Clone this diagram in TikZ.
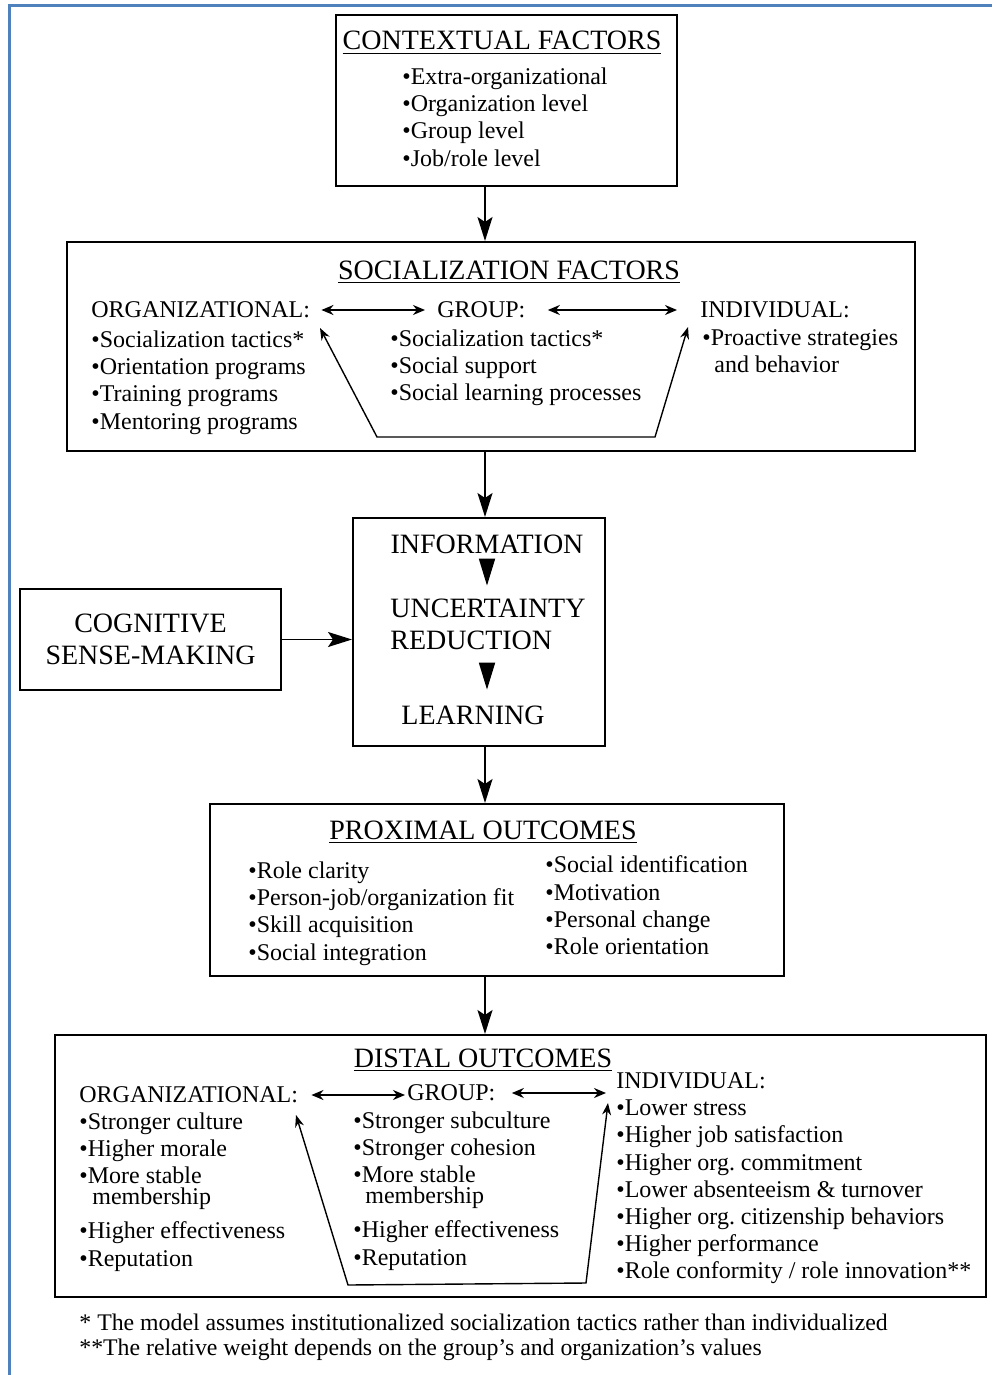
\documentclass[tikz,border=0pt]{standalone}
\usepackage{fontspec}
\setmainfont{Liberation Serif}
\usepackage{tikz}
\usetikzlibrary{positioning}
\usetikzlibrary{arrows.meta}
\definecolor{framebl}{RGB}{79,129,189}

\tikzset{
	box/.style={draw, line width=1pt, inner sep=0pt},
	ttl/.style={font=\fontsize{14}{16}\selectfont, anchor=base, inner sep=0pt},
	hd/.style={font=\fontsize{12}{13.6}\selectfont, anchor=west, inner sep=0pt},
	lst/.style={font=\fontsize{12}{13.6}\selectfont, align=left, anchor=north west, inner sep=0pt},
	big/.style={font=\fontsize{14}{16}\selectfont, inner sep=0pt},
	fn/.style={font=\fontsize{11.9}{13}\selectfont, anchor=west, inner sep=0pt},
	arr/.style={line width=0.9pt, -{Stealth[length=12pt,width=7.5pt,inset=2.5pt]}},
	tri/.style={line width=0.9pt, -{Triangle[length=13.5pt,width=8pt]}},
	dbl/.style={line width=0.9pt, {Stealth[length=6pt,width=5pt]}-{Stealth[length=6pt,width=5pt]}},
	trap/.style={line width=0.7pt, {Stealth[length=6pt,width=4.5pt]}-{Stealth[length=6pt,width=4.5pt]}},
}

\begin{document}
\begin{tikzpicture}[x=0.5pt,y=-0.5pt]
	\useasboundingbox (0,0) rectangle (992,1375);
	\draw [framebl, line width=1.5pt] (9,1375) -- (9,6) -- (992,6);
	\coordinate (ax) at (485,0);
	% boxes
	\node [box, minimum width=170.5pt, minimum height=85.5pt] (ctx) at (506.5,100.5) {};
	\node [box, minimum width=424pt, minimum height=104.5pt] (soc) at (491,346.5) {};
	\node [box, minimum width=126pt, minimum height=114pt] (info) at (479,632) {};
	\node [box, minimum width=130.5pt, minimum height=50.5pt, font=\fontsize{14}{16}\selectfont, align=center] (cog) at (150.5,639.5) {COGNITIVE\\SENSE-MAKING};
	\node [box, minimum width=287pt, minimum height=86pt] (prox) at (497,890) {};
	\node [box, minimum width=465.5pt, minimum height=131pt] (dist) at (520.5,1166) {};
	% contextual factors
	\node [ttl] (ctxt) at (502,50) {\underline{CONTEXTUAL FACTORS}};
	\node [lst] (ctxl) at (402,67.5) {•Extra-organizational\\•Organization level\\•Group level\\•Job/role level};
	% socialization factors
	\node [ttl] (soct) at (509,279) {\underline{SOCIALIZATION FACTORS}};
	\node [hd] (sorg) at (91,310) {ORGANIZATIONAL:};
	\node [hd] (sgrp) at (437,310) {GROUP:};
	\node [hd] (sind) at (700,310) {INDIVIDUAL:};
	\draw [dbl, shorten <=5.5pt, shorten >=6pt] (sorg.east) -- (sgrp.west);
	\draw [dbl, shorten <=11pt, shorten >=11.5pt] (sgrp.east) -- (sind.west);
	\node [lst] (sorgl) at (91,330.5) {•Socialization tactics*\\•Orientation programs\\•Training programs\\•Mentoring programs};
	\node [lst] (sgrpl) at (390,329.5) {•Socialization tactics*\\•Social support\\•Social learning processes};
	\node [lst] (sindl) at (702,329.5) {•Proactive strategies\\\hspace*{6pt}and behavior};
	\coordinate (sa) at (320,328);
	\coordinate (sb) at (377,437);
	\coordinate (sc) at (655,437);
	\coordinate (sd) at (688,327);
	\draw [trap] (sa) -- (sb) -- (sc) -- (sd);
	% information box
	\node [big] (inf) at (487,544) {INFORMATION};
	\node [big, align=left, anchor=west] (unc) at (390,624) {UNCERTAINTY\\REDUCTION};
	\node [big] (lrn) at (473,715) {LEARNING};
	\draw [tri, shorten <=2.9pt, shorten >=6.3pt] (inf.south) -- (inf.south |- unc.north);
	\draw [tri, shorten <=6.8pt, shorten >=7.8pt] (unc.south -| inf) -- (lrn.north -| inf);
	% proximal outcomes
	\node [ttl] (proxt) at (483,839) {\underline{PROXIMAL OUTCOMES}};
	\node [lst] (proxl) at (248,861.5) {•Role clarity\\•Person-job/organization fit\\•Skill acquisition\\•Social integration};
	\node [lst] (proxr) at (545,855.5) {•Social identification\\•Motivation\\•Personal change\\•Role orientation};
	% distal outcomes
	\node [ttl] (distt) at (483,1067) {\underline{DISTAL OUTCOMES}};
	\node [hd] (dorg) at (79,1095) {ORGANIZATIONAL:};
	\node [hd] (dgrp) at (407,1093) {GROUP:};
	\node [hd] (dind) at (616,1081) {INDIVIDUAL:};
	\draw [dbl, shorten <=6.5pt, shorten >=1pt] (dorg.east) -- (dorg.east -| dgrp.west);
	\draw [dbl, shorten <=8pt, shorten >=5pt] (dgrp.east) -- (dgrp.east -| dind.west);
	\node [lst] (dorgl) at (79,1112.5) {•Stronger culture\\•Higher morale\\•More stable\\[-3.1pt]\hspace*{6.5pt}membership\\[3.4pt]•Higher effectiveness\\•Reputation};
	\node [lst] (dgrpl) at (353,1111.5) {•Stronger subculture\\•Stronger cohesion\\•More stable\\[-3.1pt]\hspace*{6pt}membership\\[3.4pt]•Higher effectiveness\\•Reputation};
	\node [lst] (dindl) at (616,1099.5) {•Lower stress\\•Higher job satisfaction\\•Higher org.\ commitment\\•Lower absenteeism \& turnover\\•Higher org.\ citizenship behaviors\\•Higher performance\\•Role conformity / role innovation**};
	\coordinate (da) at (296,1115);
	\coordinate (db) at (348,1285);
	\coordinate (dc) at (586,1283);
	\coordinate (dd) at (608,1103);
	\draw [trap] (da) -- (db) -- (dc) -- (dd);
	% main flow
	\draw [arr] (ctx.south -| ax) -- (soc.north -| ax);
	\draw [arr] (soc.south -| ax) -- (info.north -| ax);
	\draw [arr] (info.south -| ax) -- (prox.north -| ax);
	\draw [arr] (prox.south -| ax) -- (dist.north -| ax);
	\draw [arr] (cog.east) -- (cog.east -| info.west);
	% footnotes
	\node [fn] (fn1) at (79,1322) {* The model assumes institutionalized socialization tactics rather than individualized};
	\node [fn] (fn2) at (79,1350) {**The relative weight depends on the group’s and organization’s values};
\end{tikzpicture}
\end{document}
